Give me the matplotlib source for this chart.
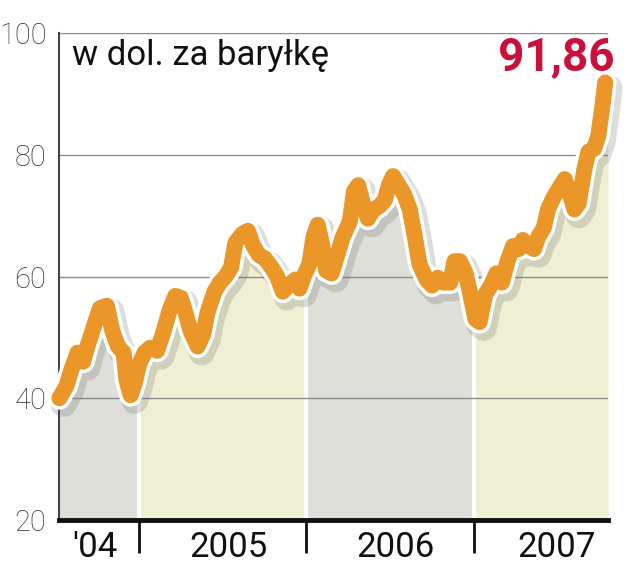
import numpy as np
import matplotlib.pyplot as plt
import matplotlib.patheffects as pe

plt.rcParams['font.family'] = ['Roboto', 'DejaVu Sans']

# miesiace liczone od stycznia 2004 (12 = styczen 2005 itd.)
months = [6.3, 6.8, 7.2, 7.6, 8.0, 8.3, 8.8, 9.2, 9.7, 10.1, 10.5, 10.9, 11.1, 11.4, 11.7,
          12.0, 12.4, 12.8, 13.3, 13.7, 14.2, 14.6, 15.0, 15.4, 15.7, 16.2, 16.6, 16.9, 17.4,
          17.8, 18.2, 18.6, 18.9, 19.4, 19.8, 20.2, 20.6, 21.0, 21.5, 21.9, 22.3, 22.7, 23.2,
          23.5, 23.8, 24.2, 24.5, 24.8, 25.1, 25.4, 25.8, 26.2, 26.6, 27.1, 27.4, 27.7, 28.1,
          28.4, 28.8, 29.2, 29.6, 29.9, 30.2, 30.6, 31.0, 31.4, 31.8, 32.1, 32.6, 33.0, 33.4,
          33.8, 34.3, 34.6, 35.0, 35.4, 35.7, 36.1, 36.4, 36.8, 37.2, 37.6, 38.0, 38.4, 38.8,
          39.2, 39.5, 39.9, 40.3, 40.6, 41.0, 41.3, 41.7, 42.1, 42.5, 42.8, 43.2, 43.5, 43.9,
          44.2, 44.6, 44.9, 45.2, 45.4]
price = [40.0, 42.0, 45.0, 47.5, 46.0, 48.5, 52.0, 54.8, 55.2, 51.0, 48.5, 47.5, 43.0, 40.5, 42.5,
         45.5, 47.5, 48.3, 47.8, 50.5, 54.5, 56.8, 56.5, 53.5, 51.0, 48.5, 50.5, 54.0, 57.5,
         59.0, 60.0, 61.5, 65.5, 67.0, 67.5, 65.0, 63.5, 63.0, 61.5, 60.0, 57.5, 58.5, 59.5,
         58.0, 60.0, 62.0, 66.5, 68.5, 65.5, 61.0, 60.5, 63.5, 66.5, 69.0, 74.0, 75.0, 71.5,
         69.5, 71.0, 71.5, 72.5, 75.0, 76.5, 75.0, 73.5, 71.0, 66.0, 62.0, 59.5, 58.5, 59.8,
         59.0, 59.0, 62.5, 62.5, 60.5, 57.5, 53.0, 52.5, 57.0, 58.5, 60.5, 59.0, 62.5, 65.0,
         64.5, 66.0, 65.0, 64.5, 66.5, 68.0, 71.0, 73.0, 74.5, 76.0, 74.0, 71.0, 72.0, 77.5,
         80.5, 81.0, 83.0, 88.0, 91.86]

year_edges = [12, 24, 36]
year_labels = ["'04", "2005", "2006", "2007"]
label_pos = [8.85, 18.4, 30.4, 41.95]
y_ticks = [20, 40, 60, 80, 100]
unit = "w dol. za baryłkę"
last_value = "91,86"

fig = plt.figure(figsize=(6.4, 5.69), dpi=100)
ax = fig.add_axes([59 / 640, 49 / 569, 549 / 640, 487 / 569])
x0, x1 = 6.27, 45.6
ax.set_xlim(x0, x1)
ax.set_ylim(20, 100)

# tlo pod krzywa, osobno dla kazdego roku
bounds = [x0] + year_edges + [x1]
fills = ['#dfdfd9', '#efefd4', '#dfdfd9', '#efefd4']
for i in range(4):
    a, b = bounds[i], bounds[i + 1]
    xs = [a] + [m for m in months if a < m < b] + [b]
    ys = np.interp(xs, months, price)
    ax.fill_between(xs, 20, ys, color=fills[i], lw=0, zorder=1)
for e in year_edges:
    ax.vlines(e, 20, np.interp(e, months, price), color='white', lw=3, zorder=1.2)

ax.plot(months, price, color='#ea9628', lw=11.5, solid_capstyle='round',
        solid_joinstyle='round', zorder=4, clip_on=False,
        path_effects=[pe.SimpleLineShadow(offset=(3, -4), shadow_color='#666666', alpha=0.22, linewidth=19),
                      pe.Stroke(linewidth=16.5, foreground='white'), pe.Normal()])

ax.set_yticks(y_ticks)
ax.yaxis.grid(True, color='#8c8c8c', lw=1)
ax.tick_params(axis='y', length=0, pad=9, labelsize=21, labelcolor='#333333')
for t in ax.get_yticklabels():
    t.set_fontweight('light')

ax.set_xticks(label_pos)
ax.set_xticklabels(year_labels)
ax.set_xticks(year_edges, minor=True)
ax.tick_params(axis='x', which='major', length=0, pad=8, labelsize=25, labelcolor='#111111')
ax.tick_params(axis='x', which='minor', length=24, width=2, color='#111111', direction='out')

for s in ['right', 'top']:
    ax.spines[s].set_visible(False)
ax.spines['left'].set_color('#444444')
ax.spines['left'].set_linewidth(1.5)
ax.spines['bottom'].set_color('#111111')
ax.spines['bottom'].set_linewidth(3.5)
ax.spines['bottom'].set_zorder(5)

fig.text(72 / 640, 1 - 65 / 569, unit, fontsize=25, color='#111111', va='baseline', ha='left')
fig.text(614 / 640, 1 - 70 / 569, last_value, fontsize=33, fontweight='bold', color='#c8103a',
         va='baseline', ha='right')

fig.savefig('out.png', dpi=100)
